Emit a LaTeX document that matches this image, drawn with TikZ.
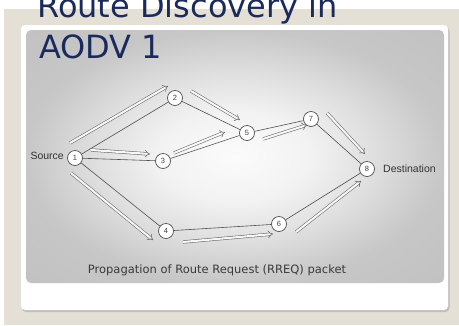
\documentclass[tikz,border=0pt]{standalone}
\usepackage{fontspec}
\setmainfont{DejaVu Sans}
\newfontfamily\arialfont{Liberation Sans}
\usetikzlibrary{arrows.meta,calc}
\definecolor{beige}{HTML}{E5E0D6}
\definecolor{titleblue}{HTML}{1B2A5C}
\definecolor{edgegray}{HTML}{505050}
\definecolor{captiongray}{HTML}{3A3A3A}
\pgfdeclareradialshading{panelshade}{\pgfpoint{0bp}{0bp}}{%
  color(0bp)=(white!97!gray);
  color(9bp)=(white!90!gray);
  color(17bp)=(white!74!gray);
  color(25bp)=(white!56!gray);
  color(50bp)=(white!46!gray)}
\tikzset{
  nd/.style={circle, draw=edgegray, fill=white, line width=0.7pt, minimum size=15pt, inner sep=0pt, font=\arialfont\fontsize{7.5}{7.5}\selectfont, text=black!75},
  lbl/.style={font=\arialfont\fontsize{10.5}{11}\selectfont, text=black!80, inner sep=0pt},
  link/.style={draw=edgegray, line width=0.6pt},
  hollow/.style={draw=black!60, double=white!94!gray, double distance=2.1pt, line width=0.55pt, -{Implies[length=5pt]}},
}
\begin{document}
\begin{tikzpicture}[x=1pt,y=-1pt]
\useasboundingbox (0,0) rectangle (459,325);
% backgrounds
\fill[white] (0,0) rectangle (459,325);
\fill[beige] (4,9) rectangle (459,325);
% card with shadow
\fill[black!25, rounded corners=4pt] (22,27) rectangle (449.5,312);
\fill[white, rounded corners=4pt] (21,25) rectangle (448,310);
% gradient panel
\shade[shading=panelshade, rounded corners=5pt] (26,30) rectangle (444,283);
% title (cut at the top edge, as in the reference)
\begin{scope}
\clip (0,0) rectangle (459,325);
\node[anchor=base west, inner sep=0pt, text=titleblue, font=\fontsize{32}{36}\selectfont] (t1) at (37,17) {Route Discovery in};
\node[anchor=base west, inner sep=0pt, text=titleblue, font=\fontsize{32}{36}\selectfont] (t2) at (39,58) {AODV 1};
\end{scope}
% nodes
\node[nd] (n1) at (75,158) {1};
\node[nd] (n2) at (175,98) {2};
\node[nd] (n3) at (163,161) {3};
\node[nd] (n4) at (166,231) {4};
\node[nd] (n5) at (247,133) {5};
\node[nd] (n6) at (279,224) {6};
\node[nd] (n7) at (311,119) {7};
\node[nd] (n8) at (367,169) {8};
\node[lbl, anchor=east] (src) at (64,156) {Source};
\node[lbl, anchor=west] (dst) at (383,169) {Destination};
% links
\draw[link] (n1) -- (n2);
\draw[link] (n1) -- (n3);
\draw[link] (n1) -- (n4);
\draw[link] (n2) -- (n5);
\draw[link] (n3) -- (n5);
\draw[link] (n5) -- (n7);
\draw[link] (n7) -- (n8);
\draw[link] (n4) -- (n6);
\draw[link] (n6) -- (n8);
% hollow propagation arrows
\coordinate (a1s) at (70,143); \coordinate (a1e) at (168,86);
\coordinate (a2s) at (91,150); \coordinate (a2e) at (150,154);
\coordinate (a3s) at (71,173); \coordinate (a3e) at (153,240);
\coordinate (a4s) at (191,91); \coordinate (a4e) at (240,120);
\coordinate (a5s) at (174,153); \coordinate (a5e) at (225,132);
\coordinate (a6s) at (263,139); \coordinate (a6e) at (307,125);
\coordinate (a7s) at (327,113); \coordinate (a7e) at (365,154);
\coordinate (a8s) at (183,242); \coordinate (a8e) at (273,234);
\coordinate (a9s) at (296,232); \coordinate (a9e) at (361,181);
\foreach \i in {1,...,9} {\draw[hollow] (a\i s) -- (a\i e);}
% caption
\node[inner sep=0pt, text=captiongray, font=\fontsize{11.5}{12}\selectfont] (cap) at (217,270) {Propagation of Route Request (RREQ) packet};
\end{tikzpicture}
\end{document}
